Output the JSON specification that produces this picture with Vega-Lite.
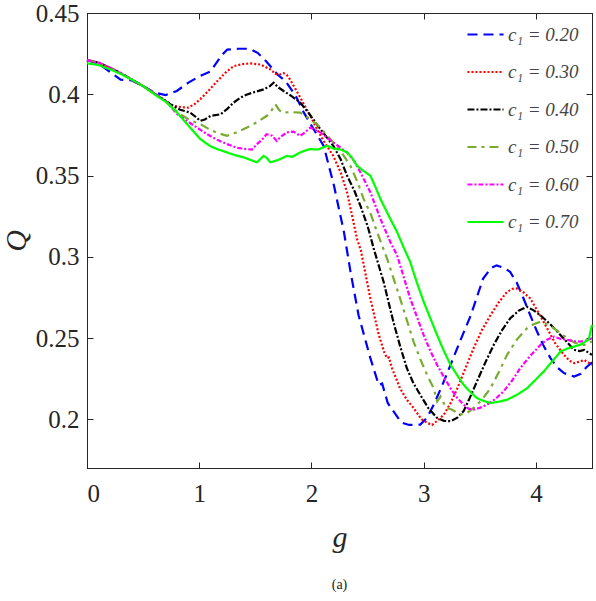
{
"$schema":"https://vega.github.io/schema/vega-lite/v6.json",
"width":505,"height":455,
"autosize":{"type":"none"},
"padding":{"left":87,"top":13,"right":4,"bottom":133},
"background":"white",
"config":{"view":{"stroke":"#262626","strokeWidth":1},"font":"Liberation Serif",
"axis":{"domainColor":"#262626","tickColor":"#262626","labelColor":"#262626","titleColor":"#262626","grid":false,"labelFont":"Liberation Serif","labelFontSize":25,"titleFont":"Liberation Serif","titleFontStyle":"italic","titleFontWeight":"normal","titleFontSize":30,"tickSize":-6,"tickWidth":1},
"legend":{"orient":"none","legendX":379,"legendY":2,"symbolType":"stroke","symbolSize":1300,"symbolStrokeWidth":2.2,"labelFont":"Liberation Serif","labelFontStyle":"italic","labelFontSize":19,"labelColor":"#444444","rowPadding":7.5,"labelOffset":3,"labelLimit":200}},
"title":{"text":"(a)","orient":"bottom","fontSize":14,"font":"Liberation Serif","fontWeight":"normal","color":"#222222","offset":26},
"data":{"values":[
{"g":0,"Q":0.421,"c":"0.20"},{"g":0.1,"Q":0.419,"c":"0.20"},{"g":0.2,"Q":0.414,"c":"0.20"},{"g":0.3,"Q":0.409,"c":"0.20"},{"g":0.4,"Q":0.4085,"c":"0.20"},{"g":0.5,"Q":0.405,"c":"0.20"},{"g":0.6,"Q":0.401,"c":"0.20"},{"g":0.7,"Q":0.3995,"c":"0.20"},{"g":0.8,"Q":0.402,"c":"0.20"},{"g":0.9,"Q":0.407,"c":"0.20"},{"g":1.0,"Q":0.411,"c":"0.20"},{"g":1.1,"Q":0.414,"c":"0.20"},{"g":1.2,"Q":0.424,"c":"0.20"},{"g":1.25,"Q":0.4275,"c":"0.20"},{"g":1.35,"Q":0.428,"c":"0.20"},{"g":1.45,"Q":0.428,"c":"0.20"},{"g":1.52,"Q":0.4255,"c":"0.20"},{"g":1.6,"Q":0.42,"c":"0.20"},{"g":1.7,"Q":0.412,"c":"0.20"},{"g":1.77,"Q":0.408,"c":"0.20"},{"g":1.86,"Q":0.399,"c":"0.20"},{"g":1.93,"Q":0.389,"c":"0.20"},{"g":2.02,"Q":0.3785,"c":"0.20"},{"g":2.11,"Q":0.368,"c":"0.20"},{"g":2.2,"Q":0.344,"c":"0.20"},{"g":2.29,"Q":0.315,"c":"0.20"},{"g":2.35,"Q":0.29,"c":"0.20"},{"g":2.42,"Q":0.264,"c":"0.20"},{"g":2.525,"Q":0.2376,"c":"0.20"},{"g":2.6,"Q":0.221,"c":"0.20"},{"g":2.63,"Q":0.222,"c":"0.20"},{"g":2.68,"Q":0.21,"c":"0.20"},{"g":2.73,"Q":0.205,"c":"0.20"},{"g":2.8,"Q":0.198,"c":"0.20"},{"g":2.87,"Q":0.1965,"c":"0.20"},{"g":2.97,"Q":0.1967,"c":"0.20"},{"g":3.03,"Q":0.201,"c":"0.20"},{"g":3.09,"Q":0.209,"c":"0.20"},{"g":3.16,"Q":0.22,"c":"0.20"},{"g":3.24,"Q":0.2335,"c":"0.20"},{"g":3.33,"Q":0.249,"c":"0.20"},{"g":3.42,"Q":0.264,"c":"0.20"},{"g":3.53,"Q":0.2866,"c":"0.20"},{"g":3.6,"Q":0.293,"c":"0.20"},{"g":3.65,"Q":0.2947,"c":"0.20"},{"g":3.72,"Q":0.293,"c":"0.20"},{"g":3.77,"Q":0.2907,"c":"0.20"},{"g":3.83,"Q":0.284,"c":"0.20"},{"g":3.89,"Q":0.2743,"c":"0.20"},{"g":3.95,"Q":0.264,"c":"0.20"},{"g":4.01,"Q":0.254,"c":"0.20"},{"g":4.07,"Q":0.245,"c":"0.20"},{"g":4.13,"Q":0.2376,"c":"0.20"},{"g":4.19,"Q":0.232,"c":"0.20"},{"g":4.25,"Q":0.2284,"c":"0.20"},{"g":4.34,"Q":0.2263,"c":"0.20"},{"g":4.4,"Q":0.228,"c":"0.20"},{"g":4.45,"Q":0.232,"c":"0.20"},{"g":4.5,"Q":0.235,"c":"0.20"},

{"g":0,"Q":0.421,"c":"0.30"},{"g":0.1,"Q":0.4195,"c":"0.30"},{"g":0.2,"Q":0.4165,"c":"0.30"},{"g":0.3,"Q":0.413,"c":"0.30"},{"g":0.4,"Q":0.409,"c":"0.30"},{"g":0.5,"Q":0.405,"c":"0.30"},{"g":0.6,"Q":0.4005,"c":"0.30"},{"g":0.7,"Q":0.396,"c":"0.30"},{"g":0.77,"Q":0.3928,"c":"0.30"},{"g":0.85,"Q":0.392,"c":"0.30"},{"g":0.905,"Q":0.3918,"c":"0.30"},{"g":0.96,"Q":0.394,"c":"0.30"},{"g":1.01,"Q":0.397,"c":"0.30"},{"g":1.08,"Q":0.402,"c":"0.30"},{"g":1.16,"Q":0.408,"c":"0.30"},{"g":1.23,"Q":0.413,"c":"0.30"},{"g":1.307,"Q":0.4173,"c":"0.30"},{"g":1.38,"Q":0.4185,"c":"0.30"},{"g":1.455,"Q":0.419,"c":"0.30"},{"g":1.545,"Q":0.4183,"c":"0.30"},{"g":1.634,"Q":0.4153,"c":"0.30"},{"g":1.68,"Q":0.4125,"c":"0.30"},{"g":1.72,"Q":0.4122,"c":"0.30"},{"g":1.75,"Q":0.413,"c":"0.30"},{"g":1.78,"Q":0.412,"c":"0.30"},{"g":1.81,"Q":0.409,"c":"0.30"},{"g":1.86,"Q":0.403,"c":"0.30"},{"g":1.9,"Q":0.398,"c":"0.30"},{"g":1.98,"Q":0.388,"c":"0.30"},{"g":2.05,"Q":0.3785,"c":"0.30"},{"g":2.12,"Q":0.37,"c":"0.30"},{"g":2.195,"Q":0.362,"c":"0.30"},{"g":2.26,"Q":0.352,"c":"0.30"},{"g":2.317,"Q":0.3397,"c":"0.30"},{"g":2.36,"Q":0.326,"c":"0.30"},{"g":2.406,"Q":0.311,"c":"0.30"},{"g":2.44,"Q":0.304,"c":"0.30"},{"g":2.525,"Q":0.2743,"c":"0.30"},{"g":2.6,"Q":0.252,"c":"0.30"},{"g":2.65,"Q":0.241,"c":"0.30"},{"g":2.674,"Q":0.2376,"c":"0.30"},{"g":2.69,"Q":0.238,"c":"0.30"},{"g":2.72,"Q":0.231,"c":"0.30"},{"g":2.79,"Q":0.219,"c":"0.30"},{"g":2.85,"Q":0.212,"c":"0.30"},{"g":2.91,"Q":0.207,"c":"0.30"},{"g":2.98,"Q":0.2,"c":"0.30"},{"g":3.04,"Q":0.1975,"c":"0.30"},{"g":3.075,"Q":0.1965,"c":"0.30"},{"g":3.12,"Q":0.199,"c":"0.30"},{"g":3.18,"Q":0.2028,"c":"0.30"},{"g":3.24,"Q":0.21,"c":"0.30"},{"g":3.3,"Q":0.219,"c":"0.30"},{"g":3.37,"Q":0.231,"c":"0.30"},{"g":3.445,"Q":0.2437,"c":"0.30"},{"g":3.52,"Q":0.255,"c":"0.30"},{"g":3.595,"Q":0.264,"c":"0.30"},{"g":3.67,"Q":0.272,"c":"0.30"},{"g":3.743,"Q":0.2784,"c":"0.30"},{"g":3.79,"Q":0.2802,"c":"0.30"},{"g":3.83,"Q":0.2805,"c":"0.30"},{"g":3.89,"Q":0.278,"c":"0.30"},{"g":3.95,"Q":0.2743,"c":"0.30"},{"g":4.02,"Q":0.266,"c":"0.30"},{"g":4.1,"Q":0.256,"c":"0.30"},{"g":4.17,"Q":0.247,"c":"0.30"},{"g":4.25,"Q":0.2396,"c":"0.30"},{"g":4.3,"Q":0.236,"c":"0.30"},{"g":4.34,"Q":0.2345,"c":"0.30"},{"g":4.39,"Q":0.2355,"c":"0.30"},{"g":4.43,"Q":0.2365,"c":"0.30"},{"g":4.5,"Q":0.2335,"c":"0.30"},

{"g":0,"Q":0.421,"c":"0.40"},{"g":0.1,"Q":0.4195,"c":"0.40"},{"g":0.2,"Q":0.4165,"c":"0.40"},{"g":0.3,"Q":0.413,"c":"0.40"},{"g":0.4,"Q":0.409,"c":"0.40"},{"g":0.5,"Q":0.405,"c":"0.40"},{"g":0.6,"Q":0.4005,"c":"0.40"},{"g":0.7,"Q":0.396,"c":"0.40"},{"g":0.742,"Q":0.3938,"c":"0.40"},{"g":0.83,"Q":0.3905,"c":"0.40"},{"g":0.92,"Q":0.3887,"c":"0.40"},{"g":0.97,"Q":0.386,"c":"0.40"},{"g":1.01,"Q":0.3836,"c":"0.40"},{"g":1.05,"Q":0.3845,"c":"0.40"},{"g":1.1,"Q":0.3866,"c":"0.40"},{"g":1.19,"Q":0.3877,"c":"0.40"},{"g":1.25,"Q":0.391,"c":"0.40"},{"g":1.307,"Q":0.3949,"c":"0.40"},{"g":1.37,"Q":0.398,"c":"0.40"},{"g":1.426,"Q":0.3999,"c":"0.40"},{"g":1.5,"Q":0.4015,"c":"0.40"},{"g":1.574,"Q":0.403,"c":"0.40"},{"g":1.63,"Q":0.405,"c":"0.40"},{"g":1.663,"Q":0.4071,"c":"0.40"},{"g":1.7,"Q":0.4045,"c":"0.40"},{"g":1.752,"Q":0.402,"c":"0.40"},{"g":1.82,"Q":0.399,"c":"0.40"},{"g":1.9,"Q":0.3949,"c":"0.40"},{"g":1.98,"Q":0.388,"c":"0.40"},{"g":2.08,"Q":0.3785,"c":"0.40"},{"g":2.195,"Q":0.3683,"c":"0.40"},{"g":2.26,"Q":0.36,"c":"0.40"},{"g":2.317,"Q":0.35,"c":"0.40"},{"g":2.38,"Q":0.341,"c":"0.40"},{"g":2.436,"Q":0.3315,"c":"0.40"},{"g":2.5,"Q":0.319,"c":"0.40"},{"g":2.555,"Q":0.305,"c":"0.40"},{"g":2.643,"Q":0.2846,"c":"0.40"},{"g":2.73,"Q":0.26,"c":"0.40"},{"g":2.79,"Q":0.245,"c":"0.40"},{"g":2.85,"Q":0.2314,"c":"0.40"},{"g":2.91,"Q":0.222,"c":"0.40"},{"g":2.97,"Q":0.215,"c":"0.40"},{"g":3.04,"Q":0.207,"c":"0.40"},{"g":3.12,"Q":0.2008,"c":"0.40"},{"g":3.18,"Q":0.199,"c":"0.40"},{"g":3.24,"Q":0.1988,"c":"0.40"},{"g":3.3,"Q":0.201,"c":"0.40"},{"g":3.356,"Q":0.205,"c":"0.40"},{"g":3.41,"Q":0.213,"c":"0.40"},{"g":3.475,"Q":0.2233,"c":"0.40"},{"g":3.55,"Q":0.235,"c":"0.40"},{"g":3.624,"Q":0.2457,"c":"0.40"},{"g":3.7,"Q":0.255,"c":"0.40"},{"g":3.77,"Q":0.262,"c":"0.40"},{"g":3.85,"Q":0.267,"c":"0.40"},{"g":3.92,"Q":0.2692,"c":"0.40"},{"g":3.98,"Q":0.267,"c":"0.40"},{"g":4.04,"Q":0.264,"c":"0.40"},{"g":4.12,"Q":0.259,"c":"0.40"},{"g":4.19,"Q":0.254,"c":"0.40"},{"g":4.27,"Q":0.248,"c":"0.40"},{"g":4.34,"Q":0.2427,"c":"0.40"},{"g":4.39,"Q":0.242,"c":"0.40"},{"g":4.43,"Q":0.2427,"c":"0.40"},{"g":4.5,"Q":0.2396,"c":"0.40"},

{"g":0,"Q":0.421,"c":"0.50"},{"g":0.1,"Q":0.4195,"c":"0.50"},{"g":0.2,"Q":0.4165,"c":"0.50"},{"g":0.3,"Q":0.413,"c":"0.50"},{"g":0.4,"Q":0.409,"c":"0.50"},{"g":0.5,"Q":0.405,"c":"0.50"},{"g":0.6,"Q":0.4005,"c":"0.50"},{"g":0.7,"Q":0.396,"c":"0.50"},{"g":0.75,"Q":0.3925,"c":"0.50"},{"g":0.83,"Q":0.3877,"c":"0.50"},{"g":0.92,"Q":0.384,"c":"0.50"},{"g":1.01,"Q":0.3816,"c":"0.50"},{"g":1.1,"Q":0.378,"c":"0.50"},{"g":1.17,"Q":0.376,"c":"0.50"},{"g":1.248,"Q":0.3744,"c":"0.50"},{"g":1.33,"Q":0.3765,"c":"0.50"},{"g":1.426,"Q":0.3795,"c":"0.50"},{"g":1.52,"Q":0.383,"c":"0.50"},{"g":1.6,"Q":0.3866,"c":"0.50"},{"g":1.64,"Q":0.3895,"c":"0.50"},{"g":1.678,"Q":0.3938,"c":"0.50"},{"g":1.71,"Q":0.3905,"c":"0.50"},{"g":1.738,"Q":0.3887,"c":"0.50"},{"g":1.82,"Q":0.389,"c":"0.50"},{"g":1.9,"Q":0.3887,"c":"0.50"},{"g":1.99,"Q":0.3846,"c":"0.50"},{"g":2.08,"Q":0.3795,"c":"0.50"},{"g":2.195,"Q":0.3703,"c":"0.50"},{"g":2.27,"Q":0.364,"c":"0.50"},{"g":2.347,"Q":0.356,"c":"0.50"},{"g":2.41,"Q":0.346,"c":"0.50"},{"g":2.465,"Q":0.3356,"c":"0.50"},{"g":2.53,"Q":0.326,"c":"0.50"},{"g":2.585,"Q":0.3152,"c":"0.50"},{"g":2.674,"Q":0.2988,"c":"0.50"},{"g":2.73,"Q":0.287,"c":"0.50"},{"g":2.79,"Q":0.2743,"c":"0.50"},{"g":2.85,"Q":0.261,"c":"0.50"},{"g":2.91,"Q":0.2478,"c":"0.50"},{"g":2.97,"Q":0.237,"c":"0.50"},{"g":3.03,"Q":0.2273,"c":"0.50"},{"g":3.09,"Q":0.219,"c":"0.50"},{"g":3.12,"Q":0.211,"c":"0.50"},{"g":3.15,"Q":0.214,"c":"0.50"},{"g":3.2,"Q":0.207,"c":"0.50"},{"g":3.25,"Q":0.206,"c":"0.50"},{"g":3.327,"Q":0.2028,"c":"0.50"},{"g":3.39,"Q":0.204,"c":"0.50"},{"g":3.445,"Q":0.207,"c":"0.50"},{"g":3.52,"Q":0.212,"c":"0.50"},{"g":3.595,"Q":0.219,"c":"0.50"},{"g":3.67,"Q":0.229,"c":"0.50"},{"g":3.743,"Q":0.2396,"c":"0.50"},{"g":3.83,"Q":0.249,"c":"0.50"},{"g":3.92,"Q":0.256,"c":"0.50"},{"g":3.98,"Q":0.2585,"c":"0.50"},{"g":4.04,"Q":0.26,"c":"0.50"},{"g":4.1,"Q":0.2585,"c":"0.50"},{"g":4.16,"Q":0.256,"c":"0.50"},{"g":4.22,"Q":0.253,"c":"0.50"},{"g":4.28,"Q":0.2498,"c":"0.50"},{"g":4.35,"Q":0.247,"c":"0.50"},{"g":4.43,"Q":0.2457,"c":"0.50"},{"g":4.5,"Q":0.2478,"c":"0.50"},

{"g":0,"Q":0.421,"c":"0.60"},{"g":0.1,"Q":0.4195,"c":"0.60"},{"g":0.2,"Q":0.4165,"c":"0.60"},{"g":0.3,"Q":0.413,"c":"0.60"},{"g":0.4,"Q":0.409,"c":"0.60"},{"g":0.5,"Q":0.405,"c":"0.60"},{"g":0.6,"Q":0.4005,"c":"0.60"},{"g":0.7,"Q":0.396,"c":"0.60"},{"g":0.8,"Q":0.388,"c":"0.60"},{"g":0.89,"Q":0.3836,"c":"0.60"},{"g":0.98,"Q":0.3795,"c":"0.60"},{"g":1.07,"Q":0.3754,"c":"0.60"},{"g":1.16,"Q":0.372,"c":"0.60"},{"g":1.248,"Q":0.3693,"c":"0.60"},{"g":1.34,"Q":0.367,"c":"0.60"},{"g":1.426,"Q":0.3662,"c":"0.60"},{"g":1.47,"Q":0.366,"c":"0.60"},{"g":1.515,"Q":0.3693,"c":"0.60"},{"g":1.56,"Q":0.372,"c":"0.60"},{"g":1.6,"Q":0.3754,"c":"0.60"},{"g":1.65,"Q":0.3745,"c":"0.60"},{"g":1.69,"Q":0.3713,"c":"0.60"},{"g":1.73,"Q":0.374,"c":"0.60"},{"g":1.78,"Q":0.3765,"c":"0.60"},{"g":1.84,"Q":0.377,"c":"0.60"},{"g":1.9,"Q":0.3744,"c":"0.60"},{"g":1.95,"Q":0.377,"c":"0.60"},{"g":1.99,"Q":0.3795,"c":"0.60"},{"g":2.08,"Q":0.3765,"c":"0.60"},{"g":2.195,"Q":0.3703,"c":"0.60"},{"g":2.317,"Q":0.3642,"c":"0.60"},{"g":2.38,"Q":0.359,"c":"0.60"},{"g":2.436,"Q":0.352,"c":"0.60"},{"g":2.525,"Q":0.3397,"c":"0.60"},{"g":2.614,"Q":0.3234,"c":"0.60"},{"g":2.703,"Q":0.3091,"c":"0.60"},{"g":2.763,"Q":0.3009,"c":"0.60"},{"g":2.82,"Q":0.288,"c":"0.60"},{"g":2.88,"Q":0.2743,"c":"0.60"},{"g":2.94,"Q":0.263,"c":"0.60"},{"g":3.0,"Q":0.2518,"c":"0.60"},{"g":3.06,"Q":0.242,"c":"0.60"},{"g":3.12,"Q":0.2334,"c":"0.60"},{"g":3.18,"Q":0.226,"c":"0.60"},{"g":3.24,"Q":0.219,"c":"0.60"},{"g":3.3,"Q":0.213,"c":"0.60"},{"g":3.356,"Q":0.209,"c":"0.60"},{"g":3.4,"Q":0.2065,"c":"0.60"},{"g":3.445,"Q":0.2059,"c":"0.60"},{"g":3.5,"Q":0.207,"c":"0.60"},{"g":3.565,"Q":0.209,"c":"0.60"},{"g":3.64,"Q":0.2125,"c":"0.60"},{"g":3.713,"Q":0.2172,"c":"0.60"},{"g":3.79,"Q":0.224,"c":"0.60"},{"g":3.86,"Q":0.2314,"c":"0.60"},{"g":3.95,"Q":0.239,"c":"0.60"},{"g":4.04,"Q":0.2457,"c":"0.60"},{"g":4.1,"Q":0.249,"c":"0.60"},{"g":4.16,"Q":0.2508,"c":"0.60"},{"g":4.22,"Q":0.2495,"c":"0.60"},{"g":4.28,"Q":0.2488,"c":"0.60"},{"g":4.34,"Q":0.248,"c":"0.60"},{"g":4.4,"Q":0.2478,"c":"0.60"},{"g":4.45,"Q":0.2485,"c":"0.60"},{"g":4.5,"Q":0.2498,"c":"0.60"},

{"g":0,"Q":0.419,"c":"0.70"},{"g":0.1,"Q":0.418,"c":"0.70"},{"g":0.2,"Q":0.4155,"c":"0.70"},{"g":0.3,"Q":0.4125,"c":"0.70"},{"g":0.4,"Q":0.409,"c":"0.70"},{"g":0.5,"Q":0.405,"c":"0.70"},{"g":0.6,"Q":0.4,"c":"0.70"},{"g":0.7,"Q":0.3955,"c":"0.70"},{"g":0.8,"Q":0.389,"c":"0.70"},{"g":0.9,"Q":0.381,"c":"0.70"},{"g":1.01,"Q":0.3724,"c":"0.70"},{"g":1.1,"Q":0.368,"c":"0.70"},{"g":1.17,"Q":0.366,"c":"0.70"},{"g":1.248,"Q":0.3642,"c":"0.70"},{"g":1.32,"Q":0.3625,"c":"0.70"},{"g":1.396,"Q":0.3612,"c":"0.70"},{"g":1.46,"Q":0.3595,"c":"0.70"},{"g":1.515,"Q":0.3581,"c":"0.70"},{"g":1.574,"Q":0.3621,"c":"0.70"},{"g":1.6,"Q":0.361,"c":"0.70"},{"g":1.634,"Q":0.3581,"c":"0.70"},{"g":1.7,"Q":0.3595,"c":"0.70"},{"g":1.75,"Q":0.361,"c":"0.70"},{"g":1.78,"Q":0.3621,"c":"0.70"},{"g":1.83,"Q":0.3615,"c":"0.70"},{"g":1.9,"Q":0.3642,"c":"0.70"},{"g":1.95,"Q":0.3655,"c":"0.70"},{"g":1.99,"Q":0.3662,"c":"0.70"},{"g":2.06,"Q":0.366,"c":"0.70"},{"g":2.14,"Q":0.3683,"c":"0.70"},{"g":2.2,"Q":0.3665,"c":"0.70"},{"g":2.26,"Q":0.366,"c":"0.70"},{"g":2.317,"Q":0.3642,"c":"0.70"},{"g":2.36,"Q":0.361,"c":"0.70"},{"g":2.406,"Q":0.356,"c":"0.70"},{"g":2.46,"Q":0.353,"c":"0.70"},{"g":2.525,"Q":0.3499,"c":"0.70"},{"g":2.57,"Q":0.343,"c":"0.70"},{"g":2.614,"Q":0.3356,"c":"0.70"},{"g":2.703,"Q":0.3233,"c":"0.70"},{"g":2.763,"Q":0.3152,"c":"0.70"},{"g":2.82,"Q":0.306,"c":"0.70"},{"g":2.88,"Q":0.2968,"c":"0.70"},{"g":2.94,"Q":0.284,"c":"0.70"},{"g":3.0,"Q":0.2723,"c":"0.70"},{"g":3.06,"Q":0.262,"c":"0.70"},{"g":3.12,"Q":0.2518,"c":"0.70"},{"g":3.18,"Q":0.242,"c":"0.70"},{"g":3.24,"Q":0.2334,"c":"0.70"},{"g":3.3,"Q":0.227,"c":"0.70"},{"g":3.356,"Q":0.2212,"c":"0.70"},{"g":3.42,"Q":0.2165,"c":"0.70"},{"g":3.475,"Q":0.213,"c":"0.70"},{"g":3.535,"Q":0.2113,"c":"0.70"},{"g":3.595,"Q":0.21,"c":"0.70"},{"g":3.67,"Q":0.2108,"c":"0.70"},{"g":3.743,"Q":0.212,"c":"0.70"},{"g":3.83,"Q":0.215,"c":"0.70"},{"g":3.92,"Q":0.219,"c":"0.70"},{"g":4.0,"Q":0.2245,"c":"0.70"},{"g":4.07,"Q":0.2294,"c":"0.70"},{"g":4.15,"Q":0.236,"c":"0.70"},{"g":4.22,"Q":0.2417,"c":"0.70"},{"g":4.28,"Q":0.2435,"c":"0.70"},{"g":4.34,"Q":0.2447,"c":"0.70"},{"g":4.4,"Q":0.246,"c":"0.70"},{"g":4.44,"Q":0.2478,"c":"0.70"},{"g":4.47,"Q":0.249,"c":"0.70"},{"g":4.5,"Q":0.258,"c":"0.70"}
]},
"layer":[
{"mark":{"type":"line","strokeWidth":2.2},
 "encoding":{
  "x":{"field":"g","type":"quantitative","scale":{"domain":[0,4.5],"nice":false,"zero":false},
       "axis":{"orient":"bottom","values":[0,1,2,3,4],"format":"d","title":"g","labelFontSize":25,"labelPadding":19,"titlePadding":16}},
  "y":{"field":"Q","type":"quantitative","scale":{"domain":[0.17,0.45],"nice":false,"zero":false},
       "axis":{"orient":"left","values":[0.2,0.25,0.3,0.35,0.4,0.45],"format":"~g","title":"Q","labelFontSize":25,"labelPadding":14,"titlePadding":4}},
  "color":{"field":"c","type":"nominal","scale":{"domain":["0.20","0.30","0.40","0.50","0.60","0.70"],"range":["#0000ff","#ff0000","#000000","#77ac30","#ff00ff","#00ff00"]},
       "legend":{"title":null,"labelExpr":"'c₁ = ' + datum.label"}},
  "strokeDash":{"field":"c","type":"nominal","scale":{"domain":["0.20","0.30","0.40","0.50","0.60","0.70"],"range":[[10,6],[2,2],[7,2,2,2],[9,5,3,5],[5,2,2,2],[1,0]]},
       "legend":{"title":null,"labelExpr":"'c₁ = ' + datum.label"}}
 }},
{"mark":{"type":"point","opacity":0},
 "encoding":{
  "x":{"field":"g","type":"quantitative","axis":{"orient":"top","values":[0,1,2,3,4],"labels":false,"title":null}},
  "y":{"field":"Q","type":"quantitative","axis":{"orient":"right","values":[0.2,0.25,0.3,0.35,0.4,0.45],"labels":false,"title":null}}
 }}
]
}
